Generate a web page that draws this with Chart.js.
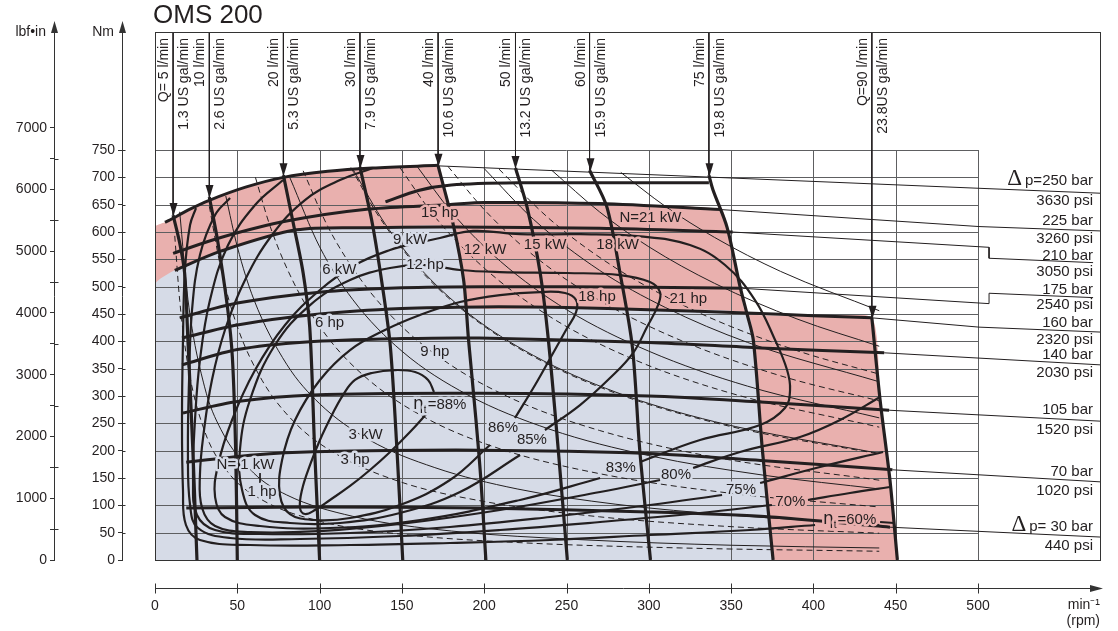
<!DOCTYPE html>
<html>
<head>
<meta charset="utf-8">
<script src="https://cdn.jsdelivr.net/npm/chart.js@4.4.1/dist/chart.umd.min.js"></script>
<style>
  html, body { margin: 0; padding: 0; background: #fff; }
  canvas { display: block; }
</style>
</head>
<body>
<canvas id="chart" width="1118" height="631"></canvas>
<script>
const FONT = '"Liberation Sans", Arial, Helvetica, sans-serif';
const INK = '#231f20';

// axes
const rpmTicks = [0, 50, 100, 150, 200, 250, 300, 350, 400, 450, 500];
const nmTicks = [0, 50, 100, 150, 200, 250, 300, 350, 400, 450, 500, 550, 600, 650, 700, 750];
const lbfTicks = [0, 500, 1000, 1500, 2000, 2500, 3000, 3500, 4000, 4500, 5000, 5500, 6000, 6500, 7000];

// flow lines Q, [rpm, Nm] from arrow tip down to 0 Nm
const flowLpm = ['Q= 5 l/min', '10 l/min', '20 l/min', '30 l/min', '40 l/min', '50 l/min', '60 l/min', '75 l/min', 'Q=90 l/min'];
const flowGal = ['1.3 US gal/min', '2.6 US gal/min', '5.3 US gal/min', '7.9 US gal/min', '10.6 US gal/min', '13.2 US gal/min', '15.9 US gal/min', '19.8 US gal/min', '23.8US gal/min'];
const q5 = [[11, 631], [15, 580], [18, 525], [20, 402], [23, 201], [25.5, 0]];
const q10 = [[33, 664], [38, 585], [44, 463], [47, 371], [49, 201], [50, 0]];
const q20 = [[78, 704], [84, 616], [90, 525], [94, 426], [97, 201], [100, 0]];
const q30 = [[124.5, 719], [132, 616], [138.5, 494], [143, 390], [147, 201], [150.5, 0]];
const q40 = [[172, 721], [181, 616], [187.5, 512], [190.5, 402], [195, 256], [198, 146], [201, 0]];
const q50 = [[219, 717], [226, 646], [234, 525], [239, 402], [245, 201], [250.5, 0]];
const q60 = [[264, 713], [274.5, 646], [282.5, 525], [290, 390], [294.5, 201], [301, 0]];
const q75 = [[336.5, 704], [339, 677], [347.5, 609], [355.5, 499], [359.5, 452], [363.5, 402], [369, 201], [375.5, 0]];
const q90 = [[435.5, 443], [440.5, 293], [446.5, 146], [451, 0]];
const flows = [q5, q10, q20, q30, q40, q50, q60, q75, q90];

// pressure lines, [rpm, Nm]
const p250 = [[6, 618], [9, 622], [20, 640], [33, 658], [55, 682], [78, 700], [105, 711], [132, 717], [172, 722]];
const p250b = [[140, 655], [160, 676], [180, 686], [220, 690], [280, 690], [336.5, 690]];
const p225 = [[11, 561], [40, 590], [80, 620], [130, 642], [178, 650], [200, 654], [270, 652], [344, 641]];
const p210 = [[12, 530], [40, 565], [86, 604], [130, 608], [181, 609], [270, 607], [351, 600]];
const p175 = [[15, 443], [50, 470], [100, 490], [150, 498], [200, 500], [300, 499], [357, 497]];
const p160 = [[16.4, 406], [50, 430], [100, 450], [150, 460], [197.5, 463], [250, 462], [300, 458], [359.5, 452], [400, 447], [435.5, 443]];
const p140 = [[16.4, 357], [50, 385], [92, 399], [150, 405], [197, 406], [300, 398], [368, 388], [443, 379]];
const p105 = [[17, 269], [50, 290], [96, 302], [197, 305], [300, 300], [368, 289], [446, 274]];
const p70 = [[19, 179], [60, 192], [96, 198], [197, 201], [300, 195], [368, 182], [448, 165]];
const p30 = [[19, 95], [96, 97], [197, 95], [300, 88], [368, 80], [446.5, 60]];
const pressures = [p250, p250b, p225, p210, p175, p160, p140, p105, p70, p30];

// leader lines from pressure curves to the right-hand table
const lead250 = [[172, 721], [500.6, 680], [574.1, 671]];
const lead225 = [[344, 641], [500.6, 610], [574.1, 602]];
const lead210 = [[351, 600], [506.7, 572], [506.7, 552], [569.9, 544]];
const lead175 = [[357, 497], [506.7, 469], [506.7, 488], [569.9, 480]];
const lead160 = [[435.5, 443], [500.6, 426], [574.1, 417]];
const lead140 = [[443, 379], [574.1, 357]];
const lead105 = [[446, 274], [574.1, 254]];
const lead70 = [[448, 165], [574.1, 143]];
const lead30 = [[446.5, 60], [574.1, 42]];
const lead1kW = [[63.8, 159], [63.8, 141]];
const leaders = [lead250, lead225, lead210, lead175, lead160, lead140, lead105, lead70, lead30, lead1kW];

// power lines: kW (solid) and hp (dashed)
const kW1 = [[15, 637], [20, 477], [30, 318], [40, 239], [60, 159], [80, 119], [120, 80], [180, 53], [260, 37], [350, 27], [440, 22]];
const kW3 = [[43, 666], [50, 573], [60, 477], [80, 358], [100, 286], [130, 220], [170, 169], [220, 130], [280, 102], [350, 82], [440, 65]];
const kW6 = [[82, 699], [100, 573], [120, 477], [150, 382], [190, 302], [240, 239], [300, 191], [370, 155], [440, 130]];
const kW9 = [[120, 716], [140, 614], [160, 537], [190, 452], [230, 374], [280, 307], [340, 253], [440, 195]];
const kW12 = [[159, 721], [180, 637], [210, 546], [250, 458], [300, 382], [360, 318], [440, 260]];
const kW15 = [[200, 716], [230, 623], [270, 530], [310, 462], [360, 398], [440, 326]];
const kW18 = [[241, 713], [270, 637], [300, 573], [340, 506], [390, 441], [440, 391]];
const kW21 = [[283, 709], [310, 647], [340, 590], [380, 528], [440, 456]];
const hp1 = [[12, 593], [15, 475], [20, 356], [30, 237], [45, 158], [65, 110], [100, 71], [150, 47], [220, 32], [320, 22], [440, 16]];
const hp3 = [[33, 647], [40, 534], [50, 427], [65, 329], [85, 251], [110, 194], [150, 142], [200, 107], [270, 79], [350, 61], [440, 49]];
const hp6 = [[61, 700], [70, 610], [85, 503], [105, 407], [130, 329], [165, 259], [210, 203], [270, 158], [350, 122], [440, 97]];
const hp9 = [[90, 712], [105, 610], [125, 513], [150, 427], [180, 356], [220, 291], [270, 237], [340, 188], [440, 146]];
const hp12 = [[119, 718], [135, 633], [160, 534], [190, 450], [230, 372], [280, 305], [350, 244], [440, 194]];
const hp15 = [[149, 717], [170, 628], [200, 534], [240, 445], [290, 368], [350, 305], [440, 243]];
const hp18 = [[178, 720], [200, 641], [230, 557], [270, 475], [320, 401], [380, 337], [440, 291]];
const hp21 = [[209, 715], [240, 623], [280, 534], [330, 453], [390, 383], [440, 340]];
const kWLines = [kW1, kW3, kW6, kW9, kW12, kW15, kW18, kW21];
const hpLines = [hp1, hp3, hp6, hp9, hp12, hp15, hp18, hp21];

// total efficiency curves (each broken where its label sits)
const eff88 = [[165.9, 270.7], [154.9, 234.1], [142.8, 197.6], [130.6, 164.6], [118.5, 135.4], [106.3, 109.8], [97.2, 91.5], [91.1, 84.1], [88.1, 95.1], [89.3, 128], [94.2, 173.8], [100.2, 219.5], [107.5, 265.2], [114.2, 301.8], [121.5, 329.3], [131.8, 342.1], [145.8, 347.5], [158, 343.9], [165.9, 329.3], [169.5, 307.3]];
const eff86 = [[218.7, 259.7], [230.9, 320.1], [241.2, 375], [249.7, 420.7], [255.8, 453.6], [255.8, 475.6], [249.1, 488.4], [233.9, 490.2], [209.6, 484.7], [185.3, 471.9], [161, 448.2], [139.7, 420.7], [118.5, 384.1], [100.2, 329.3], [85.1, 256.1], [77.2, 182.9], [75.9, 118.9], [82, 84.1], [97.2, 73.2], [118.5, 76.8], [148.8, 100.6], [179.2, 146.3], [203.5, 210.4]];
const eff85 = [[236.9, 237.8], [258.2, 283.5], [276.4, 332.9], [290.4, 378.6], [298.9, 426.2], [305.6, 466.4], [306.8, 490.2], [300.7, 508.5], [282.5, 521.3], [250.3, 525], [209.6, 526.8], [185.3, 530.5], [164, 539.6], [142.8, 534.1], [118.5, 512.2], [94.2, 466.4], [72.9, 393.3], [57.7, 292.7], [51.6, 201.2], [52.9, 128], [60.8, 82.3], [82, 67.7], [112.4, 67.7], [148.8, 86], [185.3, 124.4], [221.8, 192.1]];
const eff83 = [[294.7, 179.3], [331.1, 219.5], [367.6, 246.9], [382.7, 278], [385.8, 311], [384, 347.5], [376.7, 402.4], [364.5, 475.6], [346.3, 539.6], [325, 576.2], [294.7, 592], [258.2, 596], [221.8, 596], [193.2, 602], [173.1, 589], [159.2, 579.9], [142.8, 567.1], [121.5, 539.6], [100.2, 493.9], [79, 429.9], [60.8, 347.5], [46.8, 256.1], [38.3, 173.8], [36.5, 115.2], [42.5, 78.7], [63.8, 62.2], [106.3, 58.5], [161, 73.2], [221.8, 109.8], [270.4, 150]];
const eff80Up = [[326.9, 168.3], [355.4, 197.6], [391.9, 225], [416.2, 256.1], [440.5, 298.2]];
const eff80Low = [[306.8, 146.3], [270.4, 124.4], [209.6, 91.5], [148.8, 65.9], [100.2, 53], [57.7, 51.2], [36.5, 62.2], [28.6, 95.1], [27.3, 155.5], [29.8, 237.8], [34.6, 329.3], [42.5, 420.7], [54.7, 512.2], [71.1, 594.5], [91.1, 658.5], [112.4, 695.1], [132.4, 717]];
const eff75Up = [[367.6, 140.8], [404, 170.1], [442.3, 197.6]];
const eff75Low = [[344.5, 118.9], [300.7, 100.6], [240, 78.7], [179.2, 60.4], [118.5, 49.4], [63.8, 47.6], [36.5, 54.9], [25.5, 82.3], [23.1, 146.3], [24.3, 256.1], [27.3, 365.8], [33.4, 475.6], [44.4, 576.2], [60.8, 649.4], [77.8, 695.1]];
const eff70Up = [[396.7, 109.8], [422.2, 122.6], [446.5, 133.5]];
const eff70Low = [[374.8, 100.6], [331.1, 86], [270.4, 69.5], [209.6, 54.9], [148.8, 43.9], [88.1, 38.4], [45.6, 40.2], [26.1, 58.5], [21.3, 100.6], [20, 201.2], [20.7, 329.3], [22.5, 457.3], [27.3, 557.9], [36.5, 631.1], [45.6, 662.2]];
const eff60Up = [[440.5, 69.5], [449, 67.7]];
const eff60Low = [[401, 64], [361.5, 54.9], [300.7, 45.7], [240, 36.6], [179.2, 31.1], [118.5, 27.4], [57.7, 27.4], [27.3, 36.6], [18.8, 64], [17, 128], [16.4, 256.1], [17, 402.4], [18.2, 530.5], [21.3, 612.8], [24.9, 643.9]];
const effCurves = [eff88, eff86, eff85, eff83, eff80Up, eff80Low, eff75Up, eff75Low, eff70Up, eff70Low, eff60Up, eff60Low];

// operating areas
const intermittentEdge = [[0, 0], [0, 609], [6, 618], [9, 622], [20, 640], [33, 658], [55, 682], [78, 700], [105, 711], [132, 717], [172, 722], [175, 690], [178, 650], [200, 654], [270, 652], [344, 641], [347.5, 609], [355.5, 499], [359.5, 452], [400, 447], [435.5, 443], [440.5, 293], [446.5, 146], [451, 0]];
const continuousEdge = [[0, 0], [0, 503], [12, 530], [40, 565], [86, 604], [130, 608], [181.4, 609], [184, 560], [187.5, 512], [188.8, 463], [250, 462], [300, 458], [359.5, 452], [363.5, 402], [369, 201], [375.5, 0]];

// right-hand table rows: text, Nm position of the row
const tableRows = [
  ['p=250 bar', 693, true], ['3630 psi', 657], ['225 bar', 620], ['3260 psi', 587],
  ['210 bar', 556], ['3050 psi', 527], ['175 bar', 494], ['2540 psi', 466],
  ['160 bar', 433], ['2320 psi', 402], ['140 bar', 375], ['2030 psi', 342],
  ['105 bar', 274], ['1520 psi', 238], ['70 bar', 161], ['1020 psi', 126],
  ['p= 30 bar', 60, true], ['440 psi', 26]
];

// curve labels: text, rpm, Nm, background
const PINK = '#e9b0ae', BLUE = '#d6dbe7';
const curveLabels = [
  ['15 hp', 173, 635, PINK], ['9 kW', 155, 585, BLUE], ['12 hp', 164, 540, BLUE],
  ['6 kW', 112, 530, BLUE], ['6 hp', 106, 433, BLUE], ['9 hp', 170, 380, BLUE],
  ['3 kW', 128, 229, BLUE], ['3 hp', 121.5, 183, BLUE], ['N= 1 kW', 55, 174, BLUE],
  ['1 hp', 65, 124, BLUE], ['12 kW', 200.5, 567, PINK], ['15 kW', 237, 576, PINK],
  ['18 kW', 281, 576, PINK], ['N=21 kW', 301, 626, PINK], ['18 hp', 268.5, 481, PINK],
  ['21 hp', 324, 477, PINK], ['86%', 211.4, 241, BLUE], ['85%', 229, 219, BLUE],
  ['83%', 283, 168, BLUE], ['80%', 316.5, 155, BLUE], ['75%', 356, 128, BLUE],
  ['70%', 386, 106, PINK]
];
const etaLabels = [['=88%', 173, 283, BLUE], ['=60%', 422, 73, PINK]];

const X_MAX = 574.1, Y_MAX = 965.9;

const datasets = [];
function addLine(data, opts) {
  datasets.push(Object.assign({
    data, xAxisID: 'x', yAxisID: 'y', showLine: true, pointRadius: 0, pointHoverRadius: 0,
    borderColor: INK, borderWidth: 1, tension: 0, fill: false
  }, opts));
}
addLine(intermittentEdge, { label: 'intermittent', borderColor: 'rgba(0,0,0,0)', backgroundColor: PINK, fill: 'origin', order: 10, tension: 0.2 });
addLine(continuousEdge, { label: 'continuous', borderColor: 'rgba(0,0,0,0)', backgroundColor: BLUE, fill: 'origin', order: 9, tension: 0.2 });
kWLines.forEach(d => addLine(d, { borderWidth: 1, cubicInterpolationMode: 'monotone' }));
hpLines.forEach(d => addLine(d, { borderWidth: 1, borderDash: [6, 4], cubicInterpolationMode: 'monotone' }));
leaders.forEach(d => addLine(d, { borderWidth: 1 }));
flows.forEach(d => addLine([[d[0][0], Y_MAX], d[0]], { borderWidth: 1 }));
effCurves.forEach(d => addLine(d, { borderWidth: 2.2, tension: 0.4 }));
pressures.forEach(d => addLine(d, { borderWidth: 3, tension: 0.3 }));
flows.forEach(d => addLine(d, { borderWidth: 3.2, tension: 0.3 }));

function text(ctx, s, x, y, o = {}) {
  ctx.save();
  ctx.font = (o.size || 14) + 'px ' + (o.family || FONT);
  ctx.textAlign = o.align || 'center';
  ctx.textBaseline = o.base || 'middle';
  if (o.bg) {
    ctx.strokeStyle = o.bg; ctx.lineWidth = 5; ctx.lineJoin = 'round';
    ctx.strokeText(s, x, y);
  }
  ctx.fillStyle = INK;
  ctx.fillText(s, x, y);
  ctx.restore();
}

function drawGrid(chart) {
  const { ctx, scales: { x, y } } = chart;
  const x0 = x.getPixelForValue(0), x1 = x.getPixelForValue(500);
  const y0 = y.getPixelForValue(0), y1 = y.getPixelForValue(750);
  ctx.save();
  ctx.strokeStyle = '#5e5f61';
  ctx.lineWidth = 1;
  ctx.beginPath();
  nmTicks.forEach(v => { const p = Math.round(y.getPixelForValue(v)) + 0.5; ctx.moveTo(x0, p); ctx.lineTo(x1, p); });
  rpmTicks.forEach(v => { const p = Math.round(x.getPixelForValue(v)) + 0.5; ctx.moveTo(p, y1); ctx.lineTo(p, y0); });
  ctx.stroke();
  ctx.restore();
}

const decor = {
  id: 'decor',
  afterDatasetDraw(chart, args) {
    if (chart.data.datasets[args.index].label === 'continuous') drawGrid(chart);
  },
  afterDraw(chart) {
    const { ctx, chartArea: a, scales: { x, y, yl } } = chart;
    ctx.save();
    ctx.strokeStyle = '#333';
    ctx.lineWidth = 1;
    // frame
    ctx.strokeRect(Math.round(a.left) + 0.5, Math.round(a.top) + 0.5, Math.round(a.right - a.left), Math.round(a.bottom - a.top));
    // vertical axes: arrows and the inner half of the tick marks
    ctx.fillStyle = '#333';
    [y.right, yl.right].forEach(bx => {
      bx = Math.round(bx) + 0.5;
      ctx.beginPath(); ctx.moveTo(bx, a.top); ctx.lineTo(bx, a.top - 8); ctx.stroke();
      ctx.beginPath(); ctx.moveTo(bx, a.top - 11); ctx.lineTo(bx - 3.5, a.top + 1); ctx.lineTo(bx + 3.5, a.top + 1); ctx.closePath(); ctx.fill();
    });
    ctx.beginPath();
    const ny = Math.round(y.right) + 0.5;
    nmTicks.slice(1).forEach(v => { const p = Math.round(y.getPixelForValue(v)) + 0.5; ctx.moveTo(ny, p); ctx.lineTo(ny + 3, p); });
    const ly = Math.round(yl.right) + 0.5;
    lbfTicks.filter(v => v % 1000 !== 0).forEach(v => { const p = Math.round(yl.getPixelForValue(v)) + 0.5; ctx.moveTo(ly, p); ctx.lineTo(ly + 4, p); });
    ctx.stroke();
    // rpm axis line
    const ay = 588.5;
    ctx.beginPath(); ctx.moveTo(a.left, ay); ctx.lineTo(a.right - 8, ay); ctx.stroke();
    ctx.beginPath(); ctx.moveTo(a.right + 3, ay); ctx.lineTo(a.right - 10, ay - 3.5); ctx.lineTo(a.right - 10, ay + 3.5); ctx.closePath(); ctx.fill();
    ctx.beginPath();
    rpmTicks.forEach(v => { const p = Math.round(x.getPixelForValue(v)) + 0.5; ctx.moveTo(p, ay - 5); ctx.lineTo(p, ay + 5); });
    ctx.stroke();
    ctx.restore();

    // titles
    text(ctx, 'OMS 200', a.left - 2, 16, { size: 26, align: 'left' });
    text(ctx, 'lbf\u2022in', yl.right - 8, 32, { size: 14, align: 'right' });
    text(ctx, 'Nm', y.right - 8, 32, { size: 14, align: 'right' });

    // flow header labels and arrowheads
    flows.forEach((d, i) => {
      const px = Math.round(x.getPixelForValue(d[0][0])) + 0.5;
      const ty = y.getPixelForValue(d[0][1]);
      ctx.save();
      ctx.fillStyle = INK;
      ctx.beginPath(); ctx.moveTo(px, ty + 1); ctx.lineTo(px - 4, ty - 12); ctx.lineTo(px + 4, ty - 12); ctx.closePath(); ctx.fill();
      ctx.font = '14px ' + FONT;
      ctx.textBaseline = 'middle';
      ctx.textAlign = 'right';
      ctx.translate(px, a.top + 6);
      ctx.rotate(-Math.PI / 2);
      ctx.fillText(flowLpm[i], 0, -9);
      const w = ctx.measureText(flowGal[i]).width;
      ctx.fillStyle = '#fff';
      ctx.fillRect(-w - 2, 3, w + 2, 15);
      ctx.fillStyle = INK;
      ctx.fillText(flowGal[i], 0, 11);
      ctx.restore();
    });

    // right-hand table
    const tx = a.right - 7;
    tableRows.forEach(([s, v, delta]) => {
      const py = y.getPixelForValue(v);
      text(ctx, s, tx, py, { size: 15, align: 'right' });
      if (delta) {
        ctx.save(); ctx.font = '15px ' + FONT;
        const w = ctx.measureText(s).width; ctx.restore();
        text(ctx, '\u0394', tx - w - 3, py - 2, { size: 23, align: 'right', family: '"Liberation Serif", "Times New Roman", serif' });
      }
    });

    // curve labels
    curveLabels.forEach(([s, r, v, bg]) => text(ctx, s, x.getPixelForValue(r), y.getPixelForValue(v), { size: 15, bg }));
    etaLabels.forEach(([s, r, v, bg]) => {
      const px = x.getPixelForValue(r), py = y.getPixelForValue(v);
      ctx.save();
      ctx.font = '15px ' + FONT;
      const w1 = ctx.measureText(s).width;
      ctx.font = '17px "DejaVu Sans", sans-serif';
      const w0 = ctx.measureText('\u03b7').width;
      ctx.font = '10px ' + FONT;
      const wt = ctx.measureText('t').width + 1;
      ctx.restore();
      const left = px - (w0 + wt + w1) / 2;
      text(ctx, '\u03b7', left, py - 1, { size: 17, align: 'left', family: '"DejaVu Sans", sans-serif', bg });
      text(ctx, 't', left + w0, py + 5, { size: 10, align: 'left', bg });
      text(ctx, s, left + w0 + wt, py, { size: 15, align: 'left', bg });
    });
  }
};

new Chart(document.getElementById('chart'), {
  type: 'scatter',
  data: { datasets },
  plugins: [decor],
  options: {
    responsive: false,
    animation: false,
    devicePixelRatio: 1,
    events: [],
    layout: { padding: { left: 0, right: 18, top: 32, bottom: 0 } },
    plugins: { legend: { display: false }, tooltip: { enabled: false }, title: { display: false } },
    scales: {
      x: {
        type: 'linear', min: 0, max: X_MAX, position: 'bottom',
        afterBuildTicks: s => { s.ticks = rpmTicks.map(v => ({ value: v })); },
        afterFit: s => { s.height = 71; },
        grid: { display: false, drawTicks: false },
        border: { display: false },
        ticks: { padding: 38, color: INK, font: { family: FONT, size: 14 }, maxRotation: 0, autoSkip: false },
        title: { display: true, text: ['min\u207b\u00b9', '(rpm)'], align: 'end', color: INK, padding: { top: 0, bottom: 1 }, font: { family: FONT, size: 14, lineHeight: 1.2 } }
      },
      yl: {
        type: 'linear', min: 0, max: Y_MAX / 0.112985, position: 'left', weight: 3,
        afterBuildTicks: s => { s.ticks = lbfTicks.map(v => ({ value: v })); },
        afterFit: s => { s.width = 54; },
        grid: { drawOnChartArea: false, tickLength: 4, color: '#333' },
        border: { display: true, color: '#333' },
        ticks: { padding: 3, color: INK, font: { family: FONT, size: 14 }, callback: v => (v % 1000 === 0 ? String(v) : '') }
      },
      y: {
        type: 'linear', min: 0, max: Y_MAX, position: 'left', weight: 2,
        afterBuildTicks: s => { s.ticks = nmTicks.map(v => ({ value: v })); },
        afterFit: s => { s.width = 68; },
        grid: { drawOnChartArea: false, tickLength: 4, color: '#333' },
        border: { display: true, color: '#333' },
        ticks: { padding: 3, color: INK, font: { family: FONT, size: 14 } }
      },
      gap: {
        type: 'linear', min: 0, max: 1, position: 'left', weight: 1,
        afterFit: s => { s.width = 33; },
        grid: { display: false }, border: { display: false }, ticks: { display: false }
      }
    }
  }
});
</script>
</body>
</html>
